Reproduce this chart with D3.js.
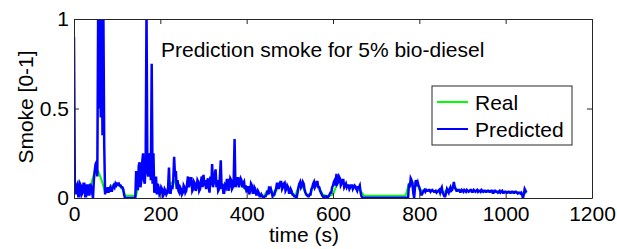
<!DOCTYPE html>
<html>
<head>
<meta charset="utf-8">
<script src="https://cdn.jsdelivr.net/npm/d3@7"></script>
<style>
	body { margin: 0; background: #fff; }
	svg text { font-family: "Liberation Sans", Arial, sans-serif; fill: #000; }
</style>
</head>
<body>
<svg></svg>
<script>
// smoke prediction chart, 5% bio-diesel

// sample step of the predicted signal (s) and of the measured one
const stepPred = 2
const stepReal = 8

// predicted smoke, one value every 2 s from t = 0 (one row = 40 s)
const predicted = [
	0.9, 0.05, 0.02, 0.07, 0.08, 0.01, 0.01, 0.08, 0.07, 0.02, 0.03, 0.08, 0.08, 0.01, 0.01, 0.07, 0.07, 0.02, 0.02, 0.08,
	0.06, 0.03, 0.0, 0.1, 0.15, 0.19, 0.2, 0.12, 1.05, 0.5, 1.05, 0.45, 1.05, 0.35, 1.05, 0.3, 0.02, 0.05, 0.03, 0.06,
	0.03, 0.05, 0.06, 0.04, 0.04, 0.06, 0.07, 0.06, 0.08, 0.07, 0.08, 0.075, 0.08, 0.07, 0.07, 0.06, 0.06, 0.05, 0.02, 0.0,
	0.0, 0.0, 0.0, 0.0, 0.0, 0.0, 0.0, 0.0, 0.0, 0.0, 0.0, 0.0, 0.15, 0.05, 0.05, 0.18, 0.2, 0.06, 0.1, 0.2,
	0.25, 0.1, 0.08, 0.2, 1.05, 0.15, 0.12, 0.22, 0.25, 0.1, 0.75, 0.08, 0.25, 0.03, 0.05, 0.12, 0.02, 0.08, 0.06, 0.02,
	0.03, 0.06, 0.05, 0.01, 0.02, 0.05, 0.04, 0.02, 0.03, 0.06, 0.17, 0.03, 0.03, 0.07, 0.05, 0.1, 0.23, 0.12, 0.15, 0.05,
	0.1, 0.04, 0.03, 0.06, 0.05, 0.02, 0.03, 0.07, 0.06, 0.03, 0.04, 0.08, 0.12, 0.06, 0.08, 0.11, 0.11, 0.04, 0.05, 0.09,
	0.08, 0.04, 0.06, 0.1, 0.09, 0.04, 0.05, 0.09, 0.12, 0.06, 0.13, 0.07, 0.1, 0.05, 0.08, 0.11, 0.06, 0.03, 0.12, 0.07,
	0.19, 0.06, 0.09, 0.13, 0.16, 0.06, 0.1, 0.04, 0.05, 0.12, 0.21, 0.05, 0.08, 0.03, 0.03, 0.07, 0.06, 0.1, 0.1, 0.04,
	0.07, 0.11, 0.1, 0.05, 0.06, 0.1, 0.33, 0.06, 0.08, 0.11, 0.11, 0.06, 0.09, 0.11, 0.1, 0.06, 0.08, 0.09, 0.05, 0.07,
	0.03, 0.06, 0.06, 0.02, 0.04, 0.08, 0.07, 0.03, 0.03, 0.06, 0.05, 0.02, 0.02, 0.04, 0.03, 0.01, 0.01, 0.02, 0.01, 0.005,
	0.005, 0.01, 0.01, 0.02, 0.04, 0.02, 0.065, 0.04, 0.05, 0.03, 0.01, 0.02, 0.02, 0.04, 0.05, 0.08, 0.08, 0.05, 0.07, 0.09,
	0.09, 0.05, 0.06, 0.08, 0.085, 0.04, 0.05, 0.07, 0.06, 0.03, 0.03, 0.05, 0.04, 0.02, 0.02, 0.01, 0.01, 0.005, 0.005, 0.03,
	0.06, 0.08, 0.09, 0.06, 0.07, 0.09, 0.08, 0.05, 0.03, 0.02, 0.015, 0.01, 0.01, 0.02, 0.02, 0.05, 0.06, 0.08, 0.09, 0.06,
	0.07, 0.09, 0.09, 0.06, 0.06, 0.04, 0.03, 0.02, 0.01, 0.005, 0.005, 0.01, 0.01, 0.005, 0.005, 0.01, 0.02, 0.03, 0.03, 0.06,
	0.07, 0.09, 0.1, 0.07, 0.135, 0.08, 0.09, 0.12, 0.11, 0.07, 0.08, 0.1, 0.1, 0.06, 0.07, 0.08, 0.06, 0.07, 0.07, 0.05,
	0.06, 0.07, 0.07, 0.05, 0.06, 0.07, 0.065, 0.05, 0.04, 0.06, 0.06, 0.07, 0.03, 0.01, 0.003, 0.002, 0.002, 0.002, 0.002, 0.002,
	0.002, 0.002, 0.002, 0.002, 0.002, 0.002, 0.002, 0.002, 0.002, 0.002, 0.002, 0.002, 0.002, 0.002, 0.002, 0.002, 0.002, 0.002, 0.002, 0.002,
	0.002, 0.002, 0.002, 0.002, 0.002, 0.002, 0.002, 0.002, 0.002, 0.002, 0.002, 0.002, 0.002, 0.002, 0.002, 0.002, 0.002, 0.002, 0.002, 0.002,
	0.002, 0.002, 0.002, 0.002, 0.002, 0.002, 0.002, 0.002, 0.08, 0.06, 0.11, 0.1, 0.08, 0.03, 0.0, 0.06, 0.1, 0.08, 0.09, 0.07,
	0.06, 0.04, 0.02, 0.02, 0.03, 0.04, 0.045, 0.035, 0.045, 0.04, 0.04, 0.045, 0.045, 0.035, 0.04, 0.045, 0.04, 0.035, 0.035, 0.04,
	0.03, 0.035, 0.04, 0.045, 0.03, 0.05, 0.06, 0.03, 0.02, 0.01, 0.01, 0.03, 0.05, 0.04, 0.03, 0.05, 0.06, 0.04, 0.045, 0.06,
	0.09, 0.06, 0.05, 0.04, 0.04, 0.045, 0.045, 0.035, 0.035, 0.045, 0.04, 0.035, 0.045, 0.04, 0.035, 0.045, 0.04, 0.035, 0.04, 0.045,
	0.045, 0.035, 0.035, 0.045, 0.04, 0.035, 0.04, 0.045, 0.035, 0.04, 0.04, 0.035, 0.045, 0.04, 0.035, 0.04, 0.04, 0.035, 0.035, 0.04,
	0.04, 0.035, 0.035, 0.04, 0.04, 0.03, 0.03, 0.04, 0.04, 0.035, 0.035, 0.03, 0.035, 0.04, 0.03, 0.035, 0.04, 0.03, 0.03, 0.035,
	0.035, 0.03, 0.03, 0.035, 0.035, 0.03, 0.03, 0.035, 0.035, 0.03, 0.03, 0.035, 0.035, 0.03, 0.025, 0.03, 0.03, 0.025, 0.03, 0.02,
	0.0, 0.02, 0.05, 0.04, 0.03
]

// measured smoke, one value every 8 s from t = 0
const real = [
	0.05, 0.05, 0.05, 0.05, 0.05, 0.08, 0.15, 0.15, 0.1, 0.03,
	0.05, 0.07, 0.08, 0.07, 0.05, 0.012, 0.012, 0.012, 0.012, 0.1,
	0.15, 0.2, 0.2, 0.1, 0.04, 0.03, 0.03, 0.03, 0.08, 0.1,
	0.05, 0.04, 0.04, 0.07, 0.08, 0.07, 0.07, 0.09, 0.08, 0.06,
	0.09, 0.08, 0.06, 0.06, 0.05, 0.07, 0.08, 0.09, 0.08, 0.06,
	0.04, 0.05, 0.04, 0.03, 0.015, 0.012, 0.04, 0.05, 0.015, 0.06,
	0.07, 0.06, 0.05, 0.03, 0.012, 0.06, 0.07, 0.03, 0.012, 0.05,
	0.07, 0.06, 0.02, 0.012, 0.012, 0.02, 0.07, 0.1, 0.08, 0.07,
	0.07, 0.06, 0.05, 0.04, 0.012, 0.012, 0.012, 0.012, 0.012, 0.012,
	0.012, 0.012, 0.012, 0.012, 0.012, 0.012, 0.012, 0.08, 0.08, 0.09,
	0.05, 0.04, 0.045, 0.04, 0.04, 0.035, 0.04, 0.03, 0.045, 0.05,
	0.07, 0.045, 0.04, 0.04, 0.04, 0.035, 0.04, 0.04, 0.035, 0.035,
	0.04, 0.035, 0.035, 0.03, 0.035, 0.035, 0.03, 0.03, 0.03, 0.03,
	0.02, 0.03
]

const xTicks = [0, 200, 400, 600, 800, 1000, 1200]
const yTicks = [0, 0.5, 1]
const yTickLabels = ["0", "0.5", "1"]

const seriesNames = ["Real", "Predicted"]
const seriesColors = ["#00ff00", "#0000ff"]

const width = 617
const height = 249
const plotLeft = 74, plotRight = 592, plotTop = 19, plotBottom = 198

const svg = d3.select("svg")
	.attr("width", width)
	.attr("height", height)

const x = d3.scaleLinear().domain([0, 1200]).range([plotLeft, plotRight])
const y = d3.scaleLinear().domain([0, 1]).range([plotBottom, plotTop])

svg.append("clipPath")
	.attr("id", "plotClip")
	.append("rect")
	.attr("x", plotLeft)
	.attr("y", plotTop)
	.attr("width", plotRight - plotLeft)
	.attr("height", plotBottom - plotTop)

//lines first, the box goes on top
const line = d3.line()
	.x(d => x(d[0]))
	.y(d => y(d[1]))

const realPoints = real.map((v, i) => [i * stepReal, v])
const predPoints = predicted.map((v, i) => [i * stepPred, v])

const plot = svg.append("g").attr("clip-path", "url(#plotClip)")

plot.append("path")
	.datum(realPoints)
	.attr("d", line)
	.attr("fill", "none")
	.attr("stroke", seriesColors[0])
	.attr("stroke-width", 2)

plot.append("path")
	.datum(predPoints)
	.attr("d", line)
	.attr("fill", "none")
	.attr("stroke", seriesColors[1])
	.attr("stroke-width", 2.5)

// axes, ticks pointing inward like matlab
const axisColor = "#262626"

const xBottom = svg.append("g")
	.attr("transform", `translate(0,${plotBottom})`)
	.call(d3.axisBottom(x).tickValues(xTicks).tickSizeInner(-5).tickSizeOuter(0).tickPadding(8)
		.tickFormat(d3.format("d")))
const xTop = svg.append("g")
	.attr("transform", `translate(0,${plotTop})`)
	.call(d3.axisTop(x).tickValues(xTicks).tickSizeInner(-5).tickSizeOuter(0).tickFormat(""))
const yLeft = svg.append("g")
	.attr("transform", `translate(${plotLeft},0)`)
	.call(d3.axisLeft(y).tickValues(yTicks).tickSizeInner(-5).tickSizeOuter(0).tickPadding(5)
		.tickFormat((d, i) => yTickLabels[i]))
const yRight = svg.append("g")
	.attr("transform", `translate(${plotRight},0)`)
	.call(d3.axisRight(y).tickValues(yTicks).tickSizeInner(-5).tickSizeOuter(0).tickFormat(""))

;[xBottom, xTop, yLeft, yRight].forEach(g => {
	g.select(".domain").attr("stroke", axisColor)
	g.selectAll(".tick line").attr("stroke", axisColor)
	g.selectAll(".tick text").attr("font-size", 21).attr("font-family", null)
})

// axis labels
svg.append("text")
	.attr("x", 304)
	.attr("y", 242)
	.attr("text-anchor", "middle")
	.attr("font-size", 21)
	.text("time (s)")

svg.append("text")
	.attr("transform", "translate(33,107) rotate(-90)")
	.attr("text-anchor", "middle")
	.attr("font-size", 21)
	.text("Smoke [0-1]")

// title inside the plot
svg.append("text")
	.attr("x", 161)
	.attr("y", 57)
	.attr("font-size", 21)
	.text("Prediction smoke for 5% bio-diesel")

// legend
const legend = svg.append("g")

legend.append("rect")
	.attr("x", 432)
	.attr("y", 86)
	.attr("width", 140)
	.attr("height", 59)
	.attr("fill", "#fff")
	.attr("stroke", axisColor)
	.attr("stroke-width", 1)

seriesNames.forEach((name, i) => {
	const ly = 102 + i * 27
	legend.append("line")
		.attr("x1", 437).attr("x2", 468)
		.attr("y1", ly).attr("y2", ly)
		.attr("stroke", seriesColors[i])
		.attr("stroke-width", 2)
	legend.append("text")
		.attr("x", 475)
		.attr("y", ly + 8)
		.attr("font-size", 21)
		.text(name)
})
</script>
</body>
</html>
